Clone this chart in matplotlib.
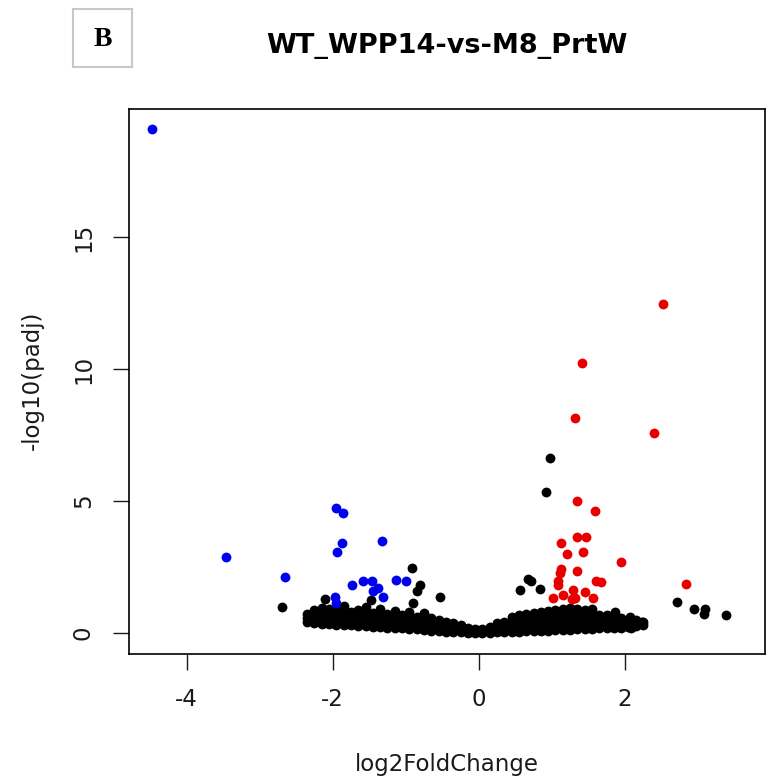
"""Volcano plot WT_WPP14-vs-M8_PrtW (panel B), R base-graphics look."""

import numpy as np
from matplotlib.figure import Figure
from matplotlib.patches import Rectangle

TITLE = "WT_WPP14-vs-M8_PrtW"
PANEL = "B"
XLABEL = "log2FoldChange"
YLABEL = "-log10(padj)"
XTICKS = [-4, -2, 0, 2]
YTICKS = [0, 5, 10, 15]

# significant, down-regulated (blue)
down_x = [-4.48, -3.46, -2.66, -1.96, -1.86, -1.87, -1.94, -1.32, -1.73, -1.58,
          -1.46, -1.14, -1.00, -1.38, -1.45, -1.31, -1.97, -1.95]
down_y = [19.09, 2.87, 2.13, 4.72, 4.56, 3.40, 3.06, 3.50, 1.82, 1.98,
          1.98, 2.01, 1.98, 1.69, 1.60, 1.35, 1.35, 1.12]

# significant, up-regulated (red)
up_x = [2.52, 1.41, 1.32, 2.40, 1.35, 1.59, 1.13, 1.34, 1.47, 1.21,
        1.43, 1.95, 1.13, 1.11, 1.34, 1.08, 1.60, 1.68, 2.84, 1.09,
        1.01, 1.15, 1.29, 1.32, 1.45, 1.57, 1.28]
up_y = [12.48, 10.24, 8.13, 7.59, 5.01, 4.62, 3.42, 3.62, 3.65, 2.99,
        3.06, 2.69, 2.41, 2.28, 2.35, 1.97, 1.98, 1.94, 1.84, 1.81,
        1.34, 1.44, 1.63, 1.31, 1.54, 1.31, 1.27]

# not significant, scattered above the main cloud (black)
ns_out_x = [0.97, 0.92, 0.68, 0.72, 0.56, 0.84, 2.71, 2.95, 3.10, 3.09,
            3.39, 2.23, 2.09, 1.86, 1.86, 2.07, -2.70, -0.91, -0.85, -0.81,
            -0.53, -1.47, -2.11, -2.29, -0.90]
ns_out_y = [6.64, 5.32, 2.03, 1.98, 1.63, 1.67, 1.16, 0.91, 0.91, 0.72,
            0.69, 0.43, 0.20, 0.81, 0.30, 0.62, 0.97, 2.45, 1.60, 1.82,
            1.35, 1.25, 1.28, 0.68, 1.12]

# not significant, dense cloud near the origin: one x per column, its y values
cloud_x = [-2.35, -2.25, -2.15, -2.05, -1.95, -1.85, -1.75, -1.65, -1.55, -1.45,
           -1.35, -1.25, -1.15, -1.05, -0.95, -0.85, -0.75, -0.65, -0.55, -0.45,
           -0.35, -0.25, -0.15, -0.05, 0.05, 0.15, 0.25, 0.35, 0.45, 0.55,
           0.65, 0.75, 0.85, 0.95, 1.05, 1.15, 1.25, 1.35, 1.45, 1.55,
           1.65, 1.75, 1.85, 1.95, 2.05, 2.15, 2.25]
cloud_y = [
    [0.42, 0.58, 0.72], [0.36, 0.50, 0.66, 0.85], [0.34, 0.47, 0.62, 0.78, 0.95],
    [0.32, 0.45, 0.60, 0.74, 0.90], [0.30, 0.43, 0.57, 0.70, 0.88],
    [0.29, 0.41, 0.55, 0.68, 0.82, 1.02], [0.28, 0.40, 0.53, 0.66, 0.80],
    [0.26, 0.38, 0.51, 0.64, 0.85], [0.25, 0.37, 0.50, 0.62, 0.78, 0.98],
    [0.23, 0.35, 0.48, 0.60, 0.74], [0.22, 0.34, 0.46, 0.58, 0.72, 0.90],
    [0.20, 0.32, 0.44, 0.57, 0.70], [0.19, 0.30, 0.42, 0.55, 0.68, 0.84],
    [0.17, 0.28, 0.40, 0.53, 0.66], [0.15, 0.26, 0.38, 0.50, 0.64, 0.80],
    [0.13, 0.24, 0.36, 0.48, 0.62], [0.11, 0.22, 0.33, 0.45, 0.58, 0.76],
    [0.09, 0.19, 0.30, 0.42, 0.55], [0.07, 0.16, 0.26, 0.37, 0.48],
    [0.05, 0.13, 0.22, 0.32, 0.42], [0.04, 0.11, 0.19, 0.27, 0.36],
    [0.02, 0.08, 0.15, 0.22, 0.30], [0.01, 0.06, 0.12, 0.18],
    [0.00, 0.04, 0.09, 0.14], [0.00, 0.04, 0.10, 0.16],
    [0.01, 0.07, 0.14, 0.22], [0.02, 0.09, 0.18, 0.28, 0.36],
    [0.03, 0.11, 0.21, 0.32, 0.42], [0.04, 0.13, 0.24, 0.36, 0.48, 0.60],
    [0.05, 0.15, 0.27, 0.40, 0.53, 0.66], [0.06, 0.17, 0.30, 0.43, 0.57, 0.72],
    [0.07, 0.19, 0.32, 0.46, 0.60, 0.76], [0.08, 0.20, 0.34, 0.48, 0.63, 0.80],
    [0.09, 0.22, 0.36, 0.50, 0.66, 0.84], [0.10, 0.23, 0.37, 0.52, 0.68, 0.88],
    [0.11, 0.24, 0.38, 0.54, 0.70, 0.92], [0.12, 0.25, 0.40, 0.55, 0.72, 0.96],
    [0.13, 0.26, 0.41, 0.56, 0.72, 0.90], [0.14, 0.27, 0.42, 0.57, 0.72, 0.86],
    [0.15, 0.28, 0.42, 0.56, 0.70, 0.92], [0.17, 0.29, 0.42, 0.55, 0.68],
    [0.18, 0.30, 0.42, 0.54, 0.66], [0.19, 0.31, 0.43, 0.55],
    [0.20, 0.32, 0.44, 0.56], [0.22, 0.34, 0.46], [0.25, 0.37, 0.48], [0.30, 0.42],
]

FONT = "DejaVu Sans"
W, H = 767, 780

fig = Figure(figsize=(W / 100, H / 100), dpi=100)
fig.patch.set_facecolor("white")
ax = fig.add_axes([129 / W, 1 - 654 / H, (765 - 129) / W, (654 - 109) / H])

cx = np.concatenate([[x] * len(ys) for x, ys in zip(cloud_x, cloud_y)])
cy = np.concatenate(cloud_y)
dot = dict(s=50, linewidths=0, zorder=3)
ax.scatter(cx, cy, color="black", **dot)
ax.scatter(ns_out_x, ns_out_y, color="black", **dot)
ax.scatter(up_x, up_y, color="#e80000", **dot)
ax.scatter(down_x, down_y, color="#0000ee", **dot)

ax.set_xlim(-4.79, 3.92)
ax.set_ylim(-0.80, 19.85)
ax.set_xticks(XTICKS)
ax.set_xticklabels([str(t) for t in XTICKS])
ax.set_yticks(YTICKS)
ax.set_yticklabels([str(t) for t in YTICKS], rotation=90, va="center")
for s in ax.spines.values():
    s.set_linewidth(1.2)
ax.tick_params(length=11.5, width=1.0, labelsize=16.5, color="#1a1a1a")
ax.tick_params(axis="x", pad=13)
ax.tick_params(axis="y", pad=13)
for lab in ax.get_xticklabels() + ax.get_yticklabels():
    lab.set_fontfamily(FONT)
    lab.set_color("#1a1a1a")

fig.text(447 / W, 1 - 765 / H, XLABEL, ha="center", va="center",
         fontsize=16.5, family=FONT, color="#1a1a1a")
fig.text(32 / W, 1 - 380 / H, YLABEL, ha="center", va="center", rotation=90,
         fontsize=16.5, family=FONT, color="#1a1a1a")
fig.text(447 / W, 1 - 46 / H, TITLE, ha="center", va="center",
         fontsize=19.5, fontweight="bold", family=FONT, color="black")

fig.patches.append(Rectangle((73 / W, 1 - 67 / H), 59 / W, 58 / H,
                             transform=fig.transFigure, facecolor="white",
                             edgecolor="#c8c8c8", linewidth=1.5))
fig.text(103 / W, 1 - 40 / H, PANEL, ha="center", va="center",
         fontsize=20, fontweight="bold", family="Liberation Serif")

fig.savefig("out.png", dpi=100)
